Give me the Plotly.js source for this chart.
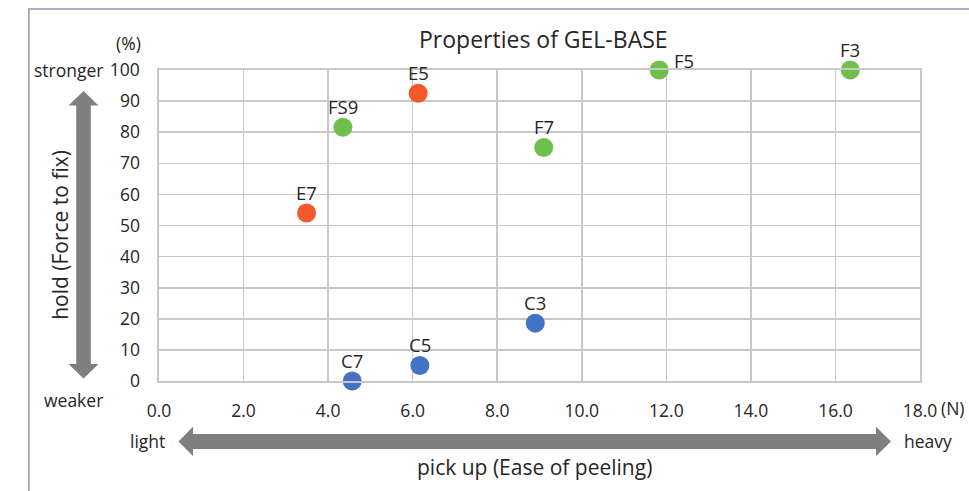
<!DOCTYPE html>
<html><head><meta charset="utf-8">
<script src="https://cdn.plot.ly/plotly-3.0.1.min.js"></script>
<style>html,body{margin:0;padding:0;background:#fff;}#chart{width:969px;height:491px;}</style>
</head><body><div id="chart"></div>
<script>
// Data
const cLabels = ['C7','C5','C3'];
const cX = [4.57, 6.17, 8.90];
const cY = [0, 5.0, 18.6];
const eLabels = ['E7','E5'];
const eX = [3.49, 6.13];
const eY = [54.0, 92.5];
const fLabels = ['FS9','F7','F5','F3'];
const fX = [4.35, 9.10, 11.83, 16.35];
const fY = [81.6, 75.1, 100, 100];
const xTicks = [0,2,4,6,8,10,12,14,16,18];
const xTickText = ['0.0','2.0','4.0','6.0','8.0','10.0','12.0','14.0','16.0','18.0'];
const yTicks = [0,10,20,30,40,50,60,70,80,90,100];

const W=969,H=491, L=158.5, R=920, T=69.5, B=381;
const px = x => (x-L)/(R-L);
const py = y => (B-y)/(B-T);
const FONT = 'Open Sans, sans-serif';
const TXT = '#262626';

function trace(x,y,color){
  return {type:'scatter',mode:'markers',x:x,y:y,cliponaxis:false,
    marker:{size:19,color:color,line:{width:0}},hoverinfo:'skip',showlegend:false};
}
const data=[
  trace(cX,cY,'#4472C4'),
  trace(eX,eY,'#F4592B'),
  trace(fX,fY,'#70BF4C')
];

function path(pts){
  return 'M'+pts.map(p=>px(p[0])+','+py(p[1])).join(' L')+' Z';
}
const grey='#7F7F7F';
const vx=83;
const vArrow=path([[vx,90.5],[vx+15,105],[vx+7.3,105],[vx+7.3,364],[vx+15,364],[vx,378.5],[vx-15,364],[vx-7.3,364],[vx-7.3,105],[vx-15,105]]);
const hy=441.5;
const hArrow=path([[178,hy],[192.5,hy-14.7],[192.5,hy-7.5],[876,hy-7.5],[876,hy-14.7],[891,hy],[876,hy+14.7],[876,hy+7.5],[192.5,hy+7.5],[192.5,hy+14.7]]);

const shapes=[
  {type:'path',xref:'paper',yref:'paper',path:vArrow,fillcolor:grey,line:{width:0}},
  {type:'path',xref:'paper',yref:'paper',path:hArrow,fillcolor:grey,line:{width:0}},
  {type:'rect',xref:'paper',yref:'paper',x0:px(28.3),x1:px(1000),y0:py(600),y1:py(8.3),line:{color:'#8E9BAD',width:1.5},fillcolor:'rgba(0,0,0,0)',layer:'below'}
];

function ann(text,x,y,size,extra){
  return Object.assign({text:text,xref:'paper',yref:'paper',x:px(x),y:py(y),xanchor:'center',yanchor:'middle',showarrow:false,font:{family:FONT,size:size,color:TXT}},extra||{});
}
const annotations=[
  ann('Properties of GEL-BASE',543.5,38,23),
  ann('(%)',128,42,17.5),
  ann('stronger',68,69.5,17.5),
  ann('weaker',73,400,17.5),
  ann('hold (Force to fix)',60,235,21,{textangle:-90}),
  ann('light',147,441.5,17.5),
  ann('heavy',928,441.5,17.5),
  ann('pick up (Ease of peeling)',534,467,21),
  ann('(N)',953,407.7,17.5)
];
// point labels from data
function pointLabels(xs,ys,labels){
  xs.forEach((x,i)=>{
    const right = labels[i]==='F5';
    annotations.push({text:labels[i],x:x,y:ys[i],xref:'x',yref:'y',showarrow:false,
      xanchor:'center',yanchor:'middle',xshift:right?25:0,yshift:right?10:20.5,
      font:{family:FONT,size:18.5,color:TXT}});
  });
}
pointLabels(cX,cY,cLabels);
pointLabels(eX,eY,eLabels);
pointLabels(fX,fY,fLabels);

const layout={
  width:W,height:H,margin:{l:L,r:W-R,t:T,b:H-B,pad:0},
  paper_bgcolor:'#fff',plot_bgcolor:'#fff',
  font:{family:FONT,color:TXT},
  xaxis:{range:[0,18],tickvals:xTicks,ticktext:xTickText,showgrid:true,gridcolor:'#C8C8C8',gridwidth:1.6,
    zeroline:false,showline:true,linecolor:'#C8C8C8',linewidth:1.6,mirror:true,ticks:'',ticklabelstandoff:13,
    tickfont:{family:FONT,size:17.5,color:TXT},fixedrange:true},
  yaxis:{range:[0,100],tickvals:yTicks,showgrid:true,gridcolor:'#C8C8C8',gridwidth:1.6,
    zeroline:false,showline:true,linecolor:'#C8C8C8',linewidth:1.6,mirror:true,ticks:'',ticklabelstandoff:14,
    tickfont:{family:FONT,size:17.5,color:TXT},fixedrange:true},
  shapes:shapes,annotations:annotations,showlegend:false
};
Plotly.newPlot('chart',data,layout,{displayModeBar:false,staticPlot:true});
</script></body></html>
